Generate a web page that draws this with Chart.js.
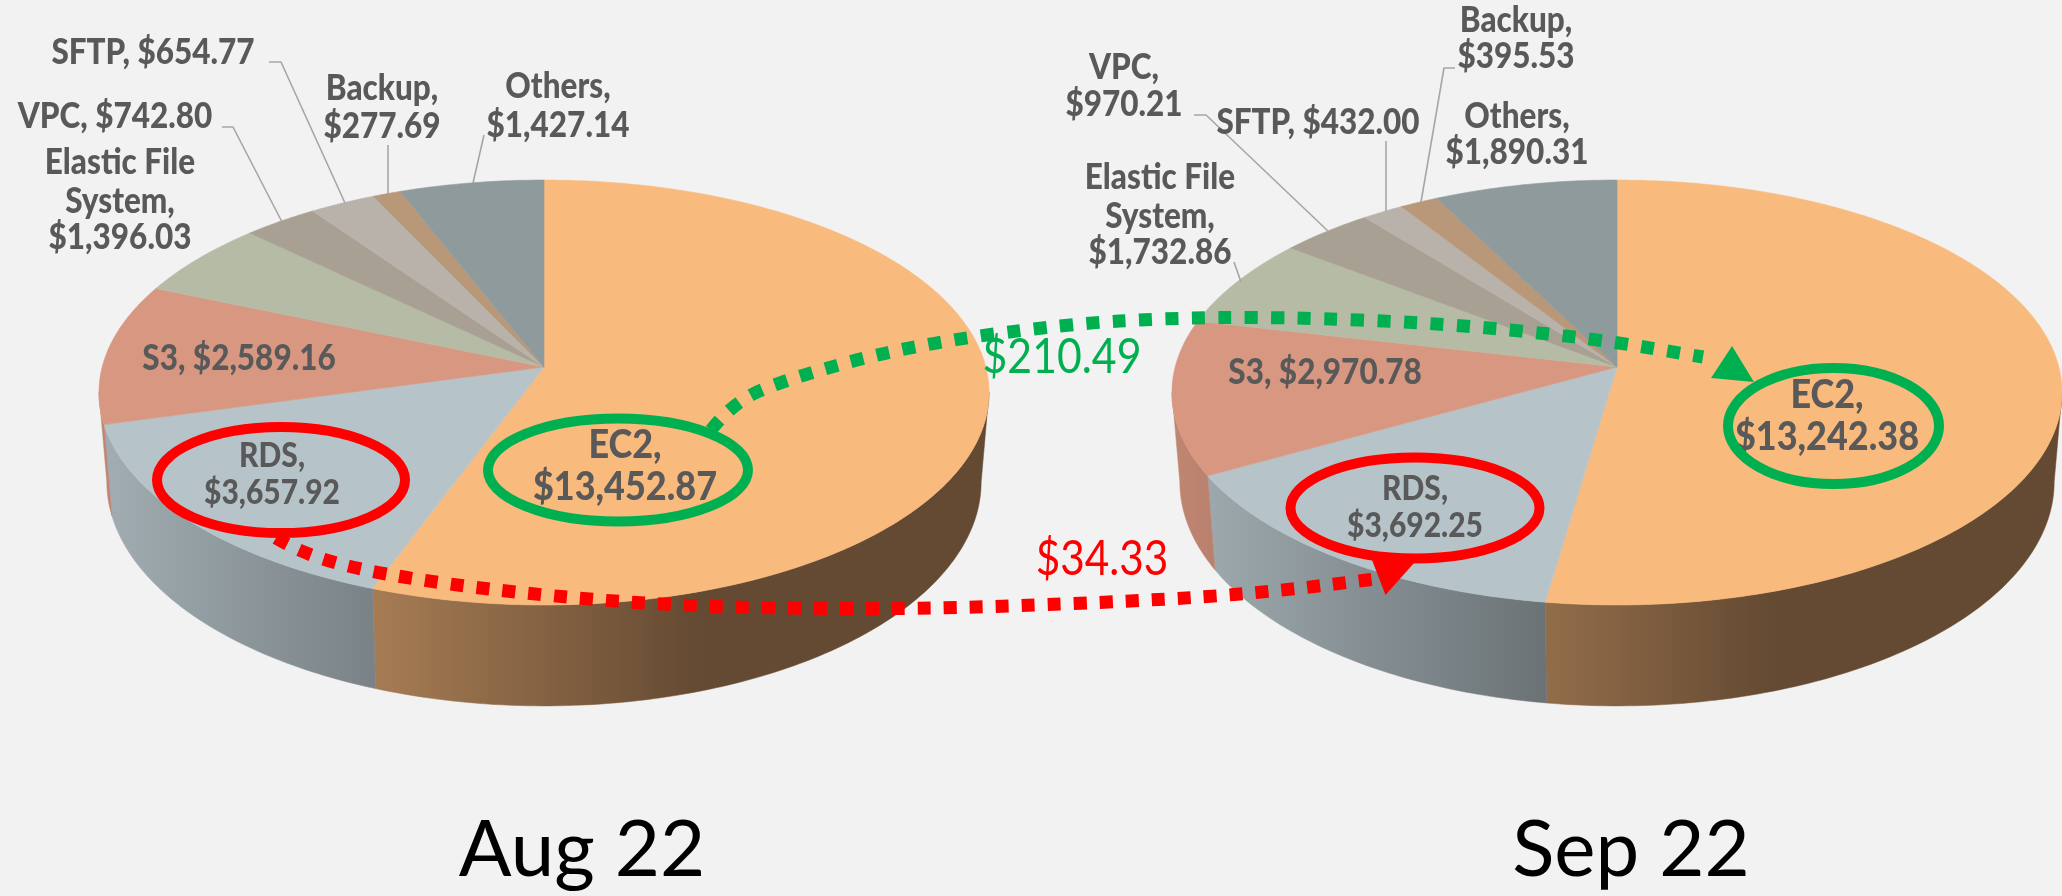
<!DOCTYPE html>
<html>
<head>
<meta charset="utf-8">
<script src="https://cdn.jsdelivr.net/npm/chart.js@4/dist/chart.umd.js"></script>
<style>
html,body{margin:0;padding:0;background:#f2f2f2;width:2062px;height:896px;overflow:hidden}
canvas{position:absolute;left:0;top:0}
</style>
</head>
<body>
<canvas id="aug" width="2062" height="896"></canvas>
<canvas id="sep" width="2062" height="896"></canvas>
<script>
const categories = ['EC2','RDS','S3','Elastic File System','VPC','SFTP','Backup','Others'];
const augValues = [13452.87,3657.92,2589.16,1396.03,742.80,654.77,277.69,1427.14];
const sepValues = [13242.38,3692.25,2970.78,1732.86,970.21,432.00,395.53,1890.31];
const sliceColors = ['#f9ba7e','#b6c4c9','#d89780','#b6bba5','#a8a092','#b9b2aa','#b99779','#8f9a9c'];
const periodTitles = ['Aug 22','Sep 22'];
const deltaLabels = ['$210.49','$34.33'];

const FONT = 'Lato, "Open Sans", sans-serif';
const TEXT = '#595959';
const GREEN = '#00b050';
const RED = '#ff0000';
const LEADER = '#a6a6a6';

const augLabels = [
  {i:0,lines:['EC2,','$'],x:625,y:[445,487],s:36},
  {i:1,lines:['RDS,','$'],x:272,y:[456,493],s:30},
  {i:2,lines:['S3, $'],x:239,y:[359],s:31.5},
  {i:3,lines:['Elastic File','System,','$'],x:120,y:[163,202,238],s:31.5},
  {i:4,lines:['VPC, $'],x:115,y:[117],s:31.5},
  {i:5,lines:['SFTP, $'],x:153,y:[53],s:31.5},
  {i:6,lines:['Backup,','$'],x:382,y:[89,127],s:31.5},
  {i:7,lines:['Others,','$'],x:558,y:[87,126],s:31.5}
];
const sepLabels = [
  {i:0,lines:['EC2,','$'],x:1827,y:[395,437],s:36},
  {i:1,lines:['RDS,','$'],x:1415,y:[489,526],s:30},
  {i:2,lines:['S3, $'],x:1325,y:[373],s:31.5},
  {i:3,lines:['Elastic File','System,','$'],x:1160,y:[178,217,253],s:31.5},
  {i:4,lines:['VPC,','$'],x:1124,y:[68,105],s:31.5},
  {i:5,lines:['SFTP, $'],x:1318,y:[123],s:31.5},
  {i:6,lines:['Backup,','$'],x:1516,y:[21,57],s:31.5},
  {i:7,lines:['Others,','$'],x:1517,y:[117,153],s:31.5}
];
const augLeaders = [
  [[269,62],[281,62],[345,203]],
  [[222,127],[233,127],[282,222]],
  [[388,145],[388,194]],
  [[484,135],[473,183]]
];
const sepLeaders = [
  [[1194,115],[1206,115],[1329,232]],
  [[1386,141],[1386,212]],
  [[1455,68],[1444,68],[1421,202]],
  [[1234,262],[1241,282]]
];

const fmt = v => v.toLocaleString('en-US',{minimumFractionDigits:2,maximumFractionDigits:2});

const K = 0.12, TOP_A = 209.4, TOP_B = 441.8, BOT_A = 220.8, BOT_B = 434, BOT_D = 88;
const THETA_VIS = Math.asin(K);
function topPt(c,t){const w=1-K*Math.sin(t);return [c.x+TOP_B*Math.cos(t)/w,c.y+TOP_A*Math.sin(t)/w];}
function botPt(c,t){const w=1-K*Math.sin(t);return [c.x+BOT_B*Math.cos(t)/w,c.y+BOT_D+BOT_A*Math.sin(t)/w];}
function shade(hex,f){
  const n=parseInt(hex.slice(1),16);
  return `rgb(${Math.round((n>>16&255)*f)},${Math.round((n>>8&255)*f)},${Math.round((n&255)*f)})`;
}
function stretched(ctx,txt,x,y,sx,sy){
  ctx.save(); ctx.translate(x,y); ctx.scale(sx,sy); ctx.fillText(txt,0,0); ctx.restore();
}

const pie3d = {
  id:'pie3d',
  beforeDatasetsDraw(chart,args,opts){
    const ctx=chart.ctx, c=opts.center, arcs=chart.getDatasetMeta(0).data;
    ctx.save();
    arcs.forEach(arc=>{
      const a=Math.max(arc.startAngle,THETA_VIS), b=Math.min(arc.endAngle,Math.PI-THETA_VIS);
      if(b<=a) return;
      const col=arc.options.backgroundColor;
      const g=ctx.createLinearGradient(c.x-445,0,c.x+445,0);
      g.addColorStop(0,shade(col,0.89));
      g.addColorStop(0.675,shade(col,0.40));
      g.addColorStop(1,shade(col,0.40));
      const n=Math.max(4,Math.ceil((b-a)*60));
      ctx.beginPath();
      for(let i=0;i<=n;i++){const p=topPt(c,a+(b-a)*i/n); i?ctx.lineTo(p[0],p[1]):ctx.moveTo(p[0],p[1]);}
      for(let i=n;i>=0;i--){const p=botPt(c,a+(b-a)*i/n); ctx.lineTo(p[0],p[1]);}
      ctx.closePath();
      ctx.fillStyle=g; ctx.strokeStyle=g; ctx.lineWidth=0.5;
      ctx.fill(); ctx.stroke();
    });
    arcs.forEach(arc=>{
      const a=arc.startAngle,b=arc.endAngle,n=Math.max(4,Math.ceil((b-a)*80));
      ctx.beginPath(); ctx.moveTo(c.x,c.y);
      for(let i=0;i<=n;i++){const p=topPt(c,a+(b-a)*i/n); ctx.lineTo(p[0],p[1]);}
      ctx.closePath();
      ctx.fillStyle=arc.options.backgroundColor; ctx.strokeStyle=arc.options.backgroundColor; ctx.lineWidth=0.6;
      ctx.fill(); ctx.stroke();
    });
    ctx.restore();
    return false;
  },
  afterDraw(chart,args,opts){
    const ctx=chart.ctx;
    ctx.save();
    ctx.strokeStyle=LEADER; ctx.lineWidth=1.6; ctx.lineJoin='round';
    opts.leaders.forEach(l=>{
      ctx.beginPath();
      l.forEach((p,i)=>i?ctx.lineTo(p[0],p[1]):ctx.moveTo(p[0],p[1]));
      ctx.stroke();
    });
    ctx.fillStyle=TEXT; ctx.textAlign='center'; ctx.textBaseline='middle';
    const vals=chart.data.datasets[0].data;
    opts.labels.forEach(L=>{
      ctx.font=`900 ${L.s}px ${FONT}`;
      L.lines.forEach((t,k)=>{
        const txt=t.endsWith('$')?t+fmt(vals[L.i]):t;
        stretched(ctx,txt,L.x,L.y[k],1,1.12);
      });
    });
    ctx.fillStyle='#000'; ctx.font=`400 ${opts.titleSize}px ${FONT}`;
    ctx.fillText(opts.title,opts.titleX,opts.titleY);
    ctx.restore();
  }
};

function ell(ctx,x,y,rx,ry,col){
  ctx.beginPath(); ctx.ellipse(x,y,rx,ry,0,0,Math.PI*2);
  ctx.strokeStyle=col; ctx.lineWidth=10; ctx.setLineDash([]); ctx.stroke();
}
function curve(ctx,pts,col,dash){
  ctx.beginPath(); ctx.moveTo(pts[0][0],pts[0][1]);
  for(let i=1;i<pts.length-1;i++){
    const mx=(pts[i][0]+pts[i+1][0])/2,my=(pts[i][1]+pts[i+1][1])/2;
    ctx.quadraticCurveTo(pts[i][0],pts[i][1],mx,my);
  }
  const e=pts[pts.length-1]; ctx.lineTo(e[0],e[1]);
  ctx.strokeStyle=col; ctx.lineWidth=13; ctx.lineCap='butt'; ctx.setLineDash(dash); ctx.stroke(); ctx.setLineDash([]);
}
function tri(ctx,p,col){
  ctx.beginPath(); ctx.moveTo(p[0][0],p[0][1]); ctx.lineTo(p[1][0],p[1][1]); ctx.lineTo(p[2][0],p[2][1]); ctx.closePath();
  ctx.fillStyle=col; ctx.fill();
}
const callouts = {
  id:'callouts',
  afterDraw(chart){
    const ctx=chart.ctx;
    ctx.save();
    curve(ctx,[[711,430],[731,405],[777,382],[907,346],[1067,324],[1172,318],[1279,317],[1439,323],[1591,338],[1703,357]],GREEN,[13,13.5]);
    tri(ctx,[[1732,346],[1711,378],[1754,382]],GREEN);
    curve(ctx,[[276,538],[304,555],[384,575],[516,593],[674,606],[835,609],[967,608],[1181,599],[1287,590],[1375,579]],RED,[13,13]);
    tri(ctx,[[1385.5,595],[1372,560],[1414,563]],RED);
    ell(ctx,618,470,130,51.5,GREEN);
    ell(ctx,281,480,124,53,RED);
    ell(ctx,1415,508,124.5,50.5,RED);
    ell(ctx,1833.5,426,105.5,58,GREEN);
    ctx.textAlign='center'; ctx.textBaseline='middle'; ctx.font=`400 46px ${FONT}`;
    ctx.fillStyle=GREEN; stretched(ctx,deltaLabels[0],1062,357,0.93,1.05);
    ctx.fillStyle=RED; stretched(ctx,deltaLabels[1],1102,559,0.92,1.05);
    ctx.restore();
  }
};

function makePie(id,values,center,labels,leaders,title,titleX,extra){
  return new Chart(document.getElementById(id),{
    type:'pie',
    data:{labels:categories,datasets:[{data:values,backgroundColor:sliceColors,borderWidth:0}]},
    options:{
      responsive:false,animation:false,devicePixelRatio:1,
      events:[],
      plugins:{
        legend:{display:false},tooltip:{enabled:false},
        pie3d:{center,labels,leaders,title,titleX,titleY:851,titleSize:78}
      }
    },
    plugins:extra?[pie3d,extra]:[pie3d]
  });
}
makePie('aug',augValues,{x:544,y:367},augLabels,augLeaders,periodTitles[0],582);
makePie('sep',sepValues,{x:1617,y:367},sepLabels,sepLeaders,periodTitles[1],1631,callouts);
</script>
</body>
</html>
